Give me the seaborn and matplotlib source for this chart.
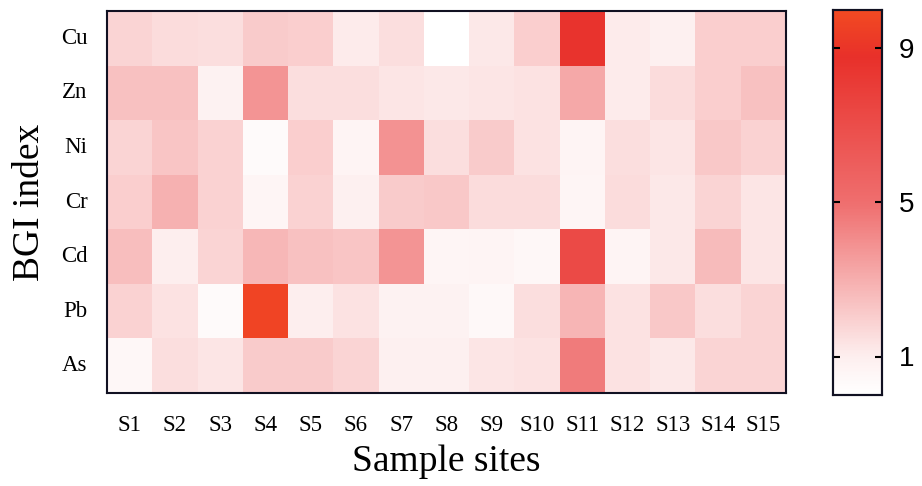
import numpy as np
import pandas as pd
import matplotlib
matplotlib.use("Agg")
import matplotlib.pyplot as plt
import seaborn as sns
from matplotlib.colors import LinearSegmentedColormap

sites = ["S1", "S2", "S3", "S4", "S5", "S6", "S7", "S8", "S9", "S10", "S11", "S12", "S13", "S14", "S15"]
metals = ["Cu", "Zn", "Ni", "Cr", "Cd", "Pb", "As"]

cu = [1.8, 1.6, 1.5, 2.1, 2.0, 1.1, 1.5, 0.0, 1.2, 2.0, 8.6, 1.1, 0.9, 2.0, 2.0]
zn = [2.4, 2.4, 0.8, 3.8, 1.5, 1.5, 1.3, 1.2, 1.3, 1.4, 3.2, 1.1, 1.6, 2.0, 2.4]
ni = [1.8, 2.3, 1.9, 0.3, 2.0, 0.7, 3.9, 1.5, 2.1, 1.4, 0.7, 1.5, 1.3, 2.2, 1.9]
cr = [2.0, 2.9, 1.9, 0.6, 1.9, 0.9, 2.1, 2.2, 1.6, 1.6, 0.6, 1.6, 1.2, 1.8, 1.3]
cd = [2.5, 1.0, 1.8, 2.7, 2.4, 2.3, 3.8, 0.6, 0.7, 0.5, 7.2, 0.7, 1.2, 2.6, 1.3]
pb = [1.9, 1.4, 0.3, 9.7, 1.0, 1.4, 0.8, 0.8, 0.4, 1.5, 2.8, 1.4, 2.2, 1.5, 1.8]
as_ = [0.5, 1.5, 1.3, 2.1, 2.1, 1.8, 0.9, 0.9, 1.3, 1.4, 4.6, 1.4, 1.2, 1.8, 1.8]

df = pd.DataFrame([cu, zn, ni, cr, cd, pb, as_], index=metals, columns=sites)

cmap = LinearSegmentedColormap.from_list(
    "bgi", [(0.0, "#ffffff"), (0.1, "#fdeeee"), (0.5, "#ef6e6e"),
            (0.88, "#e8302a"), (1.0, "#f24a22")])

fig = plt.figure(figsize=(9.22, 4.86), dpi=100)
ax = fig.add_axes([107/922, 93/486, 679/922, 382/486])
cax = fig.add_axes([833/922, 91/486, 49/922, 385/486])

sns.heatmap(df, ax=ax, cbar_ax=cax, cmap=cmap, vmin=0, vmax=10,
            cbar_kws={"ticks": [1, 5, 9]})

for s in ax.spines.values():
    s.set_visible(True)
    s.set_linewidth(1.5)
    s.set_color("#111122")
ax.tick_params(axis="x", length=0, pad=16)
ax.tick_params(axis="y", length=0, pad=14)
ax.set_xticklabels(sites, rotation=0, fontsize=16.5, family="Liberation Serif")
ax.set_yticklabels(metals, rotation=0, fontsize=16.5, family="Liberation Serif")
ax.set_xlabel("Sample sites", fontsize=27, family="Liberation Serif", labelpad=6)
ax.set_ylabel("BGI index", fontsize=27, family="Liberation Serif", labelpad=10)

for s in cax.spines.values():
    s.set_visible(True)
    s.set_linewidth(1.5)
    s.set_color("#111122")
cax.tick_params(direction="in", left=True, right=True, length=5, width=1.5,
                labelsize=20, pad=12)
for t in cax.get_yticklabels():
    t.set_family("Liberation Sans")

fig.savefig("out.png", dpi=100)
